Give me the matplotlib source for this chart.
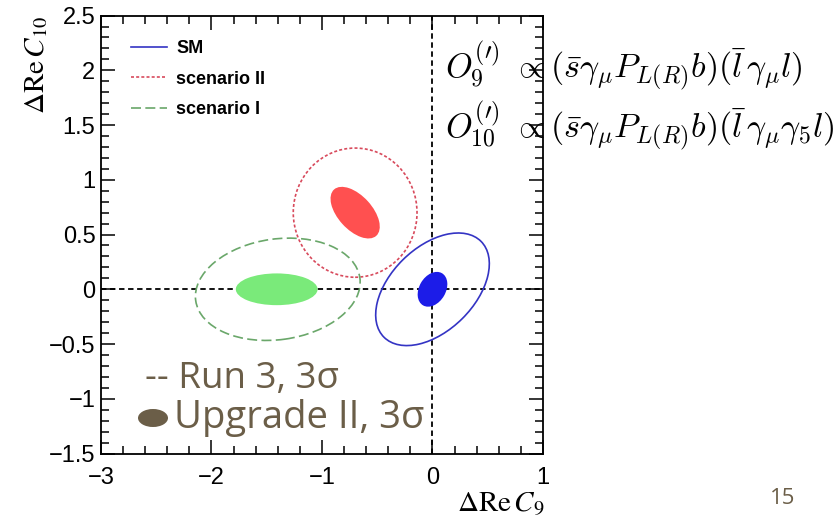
import numpy as np
import matplotlib.pyplot as plt
from matplotlib.patches import Ellipse
from matplotlib.lines import Line2D
from matplotlib.ticker import MultipleLocator, FuncFormatter

# contours in the (dRe C9, dRe C10) plane
labels = ['SM', 'scenario II', 'scenario I']
centres = [(0.0, 0.0), (-0.70, 0.70), (-1.40, 0.0)]

# Run 3 3-sigma contours: full width, full height, tilt [deg]
run3_w = [1.24, 1.12, 1.50]
run3_h = [0.76, 1.18, 0.92]
run3_ang = [45, 0, 8]

# Upgrade II 3-sigma contours
up2_centres = [(0.0, 0.0), (-0.70, 0.70), (-1.41, 0.0)]
up2_w = [0.34, 0.57, 0.74]
up2_h = [0.24, 0.31, 0.29]
up2_ang = [60, -48, 0]

line_colors = ['#3434c4', '#d84a5c', '#6aa76a']
fill_colors = ['#1c1ce8', '#ff5050', '#7aea7a']
line_styles = ['-', (0, (1.8, 1.3)), (0, (6, 2.6))]
brown = '#6b5e48'

W, H = 837, 518
fig = plt.figure(figsize=(W / 100, H / 100), dpi=100)
ax = fig.add_axes([101 / W, 1 - 453.5 / H, 442 / W, 437.9 / H])

ax.axhline(0, color='black', lw=1.3, ls=(0, (3, 2)), zorder=1)
ax.axvline(0, color='black', lw=1.3, ls=(0, (3, 2)), zorder=1)

handles = []
for i in range(len(labels)):
    ax.add_patch(Ellipse(up2_centres[i], up2_w[i], up2_h[i], angle=up2_ang[i],
                         facecolor=fill_colors[i], edgecolor='none', zorder=2))
    ax.add_patch(Ellipse(centres[i], run3_w[i], run3_h[i], angle=run3_ang[i],
                         facecolor='none', edgecolor=line_colors[i], lw=1.2,
                         ls=line_styles[i], zorder=3))
    handles.append(Line2D([], [], color=line_colors[i], lw=1.2, ls=line_styles[i]))

ax.set_xlim(-3, 1)
ax.set_ylim(-1.5, 2.5)
ax.xaxis.set_major_locator(MultipleLocator(1))
ax.xaxis.set_minor_locator(MultipleLocator(0.2))
ax.yaxis.set_major_locator(MultipleLocator(0.5))
ax.yaxis.set_minor_locator(MultipleLocator(0.1))
fmt = FuncFormatter(lambda v, pos: f'{v:g}'.replace('-', '\u2212'))
ax.xaxis.set_major_formatter(fmt)
ax.yaxis.set_major_formatter(fmt)
ax.tick_params(which='both', direction='in', top=True, right=True, width=1.1)
ax.tick_params(which='major', length=10)
ax.tick_params(which='minor', length=5.5)
ax.tick_params(axis='x', pad=10)
ax.tick_params(axis='y', pad=4)
for lab in ax.get_xticklabels() + ax.get_yticklabels():
    lab.set_fontfamily('Liberation Sans')
    lab.set_fontsize(17)
for s in ax.spines.values():
    s.set_linewidth(1.3)

ax.legend(handles, labels, loc='upper left', bbox_to_anchor=(131 / W, 1 - 40 / H),
          bbox_transform=fig.transFigure, frameon=False, borderpad=0,
          borderaxespad=0, handlelength=2.0, handletextpad=0.5, labelspacing=0.75,
          prop=dict(family='Liberation Sans', weight='bold', size=13))

# axis titles at the far ends of the axes
fig.text(545 / W, 1 - 512 / H, r'$\Delta\mathrm{Re}\,C_9$', ha='right', va='baseline',
         fontsize=21, math_fontfamily='stix')
fig.text(36 / W, 1 - 16 / H, r'$\Delta\mathrm{Re}\,C_{10}$', ha='center', va='top',
         rotation=90, fontsize=21, math_fontfamily='stix')

# operator definitions
fig.text(445 / W, 1 - 78 / H,
         r'$O_9^{(\prime)}\ \propto(\bar{s}\gamma_\mu P_{L(R)}b)(\bar{l}\,\gamma_\mu l)$',
         fontsize=24.5, va='baseline', math_fontfamily='cm')
fig.text(445 / W, 1 - 138 / H,
         r'$O_{10}^{(\prime)}\ \propto(\bar{s}\gamma_\mu P_{L(R)}b)(\bar{l}\,\gamma_\mu\gamma_5 l)$',
         fontsize=24.5, va='baseline', math_fontfamily='cm')

# key for the two sets of contours
fig.text(145 / W, 1 - 388 / H, '-- Run 3, 3σ', fontsize=26.5, color=brown,
         family='Open Sans', va='baseline')
ax.add_patch(Ellipse((153 / W, 1 - 418 / H), 30 / W, 18 / H, transform=fig.transFigure,
                     facecolor=brown, edgecolor='none', zorder=5))
fig.text(174 / W, 1 - 428 / H, 'Upgrade II, 3σ', fontsize=27.5, color=brown,
         family='Open Sans', va='baseline')

fig.text(770 / W, 1 - 504 / H, '15', fontsize=16, color=brown, family='Open Sans',
         va='baseline')

fig.savefig('out.png', dpi=100)
